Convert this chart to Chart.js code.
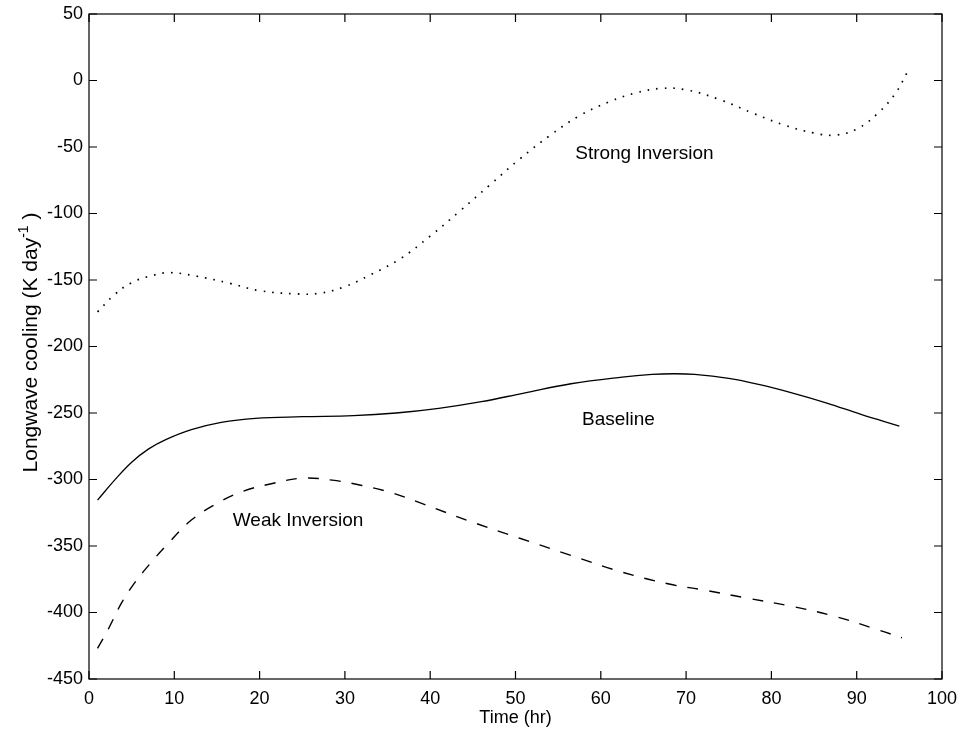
<!DOCTYPE html>
<html>
<head>
<meta charset="utf-8">
<script src="https://cdn.jsdelivr.net/npm/chart.js@4.4.0/dist/chart.umd.min.js"></script>
<style>
  html, body { margin: 0; padding: 0; background: #fff; }
</style>
</head>
<body>
<canvas id="chart" width="963" height="736"></canvas>
<script>
// hours and cooling rates (K/day) for each run
const strongHours = [1, 3, 5, 7.5, 9.5, 12.5, 16.5, 20, 24.5, 27, 30, 33, 36.5, 40, 43.5, 47, 50.5, 54, 57.5, 61, 64, 67, 70, 74, 78, 81.5, 85, 87.5, 90, 92.5, 94.5, 96];
const strongCooling = [-174, -161, -152, -146.5, -144.5, -147, -152.5, -158, -160.5, -160, -155, -146, -134, -117, -98, -78.5, -59, -41.5, -26.5, -16, -9.5, -6, -7, -14.5, -25, -33.5, -39.5, -41, -36.5, -24.5, -10, 7];

const baseHours = [1, 3, 5, 7, 9, 12, 15.5, 19.5, 25, 31, 36, 41, 46, 51, 56.5, 62.5, 66, 68.5, 71, 75, 78.5, 82.5, 86.5, 90.5, 95];
const baseCooling = [-315.5, -300.5, -287, -277, -270, -262.5, -257, -254, -252.8, -252, -250, -246.5, -241.5, -235, -228, -223, -221, -220.5, -221, -224, -228.5, -235, -242.5, -251, -259.8];

const weakHours = [1, 2.3, 3.8, 5.2, 7.2, 9.3, 12, 15, 18, 21.5, 25, 28.5, 32, 35.5, 39, 44.7, 50.5, 56.4, 62.3, 68, 72, 77, 82.5, 87.5, 92.5, 95.3];
const weakCooling = [-427, -412, -393, -379, -363, -348, -330.5, -318, -309, -303, -299, -300.5, -304.5, -310, -318, -331.5, -344.2, -356.8, -369.3, -378.6, -383, -389, -395.5, -403, -413, -419];

const xTicks = [0, 10, 20, 30, 40, 50, 60, 70, 80, 90, 100];
const yTicks = [50, 0, -50, -100, -150, -200, -250, -300, -350, -400, -450];

// curve labels, placed in data units (left edge, baseline)
const curveLabels = [
  { text: 'Strong Inversion', x: 57, y: -59 },
  { text: 'Baseline', x: 57.8, y: -259 },
  { text: 'Weak Inversion', x: 16.85, y: -335 }
];

const FONT = "'Liberation Sans', Arial, Helvetica, sans-serif";
const TICK = 8;

function pts(xs, ys) {
  return xs.map((x, i) => ({ x: x, y: ys[i] }));
}

// box around the plot with inward ticks on every side
const frameTicks = {
  id: 'frameTicks',
  afterDatasetsDraw(chart) {
    const { ctx, chartArea: a, scales } = chart;
    ctx.save();
    ctx.strokeStyle = '#000';
    ctx.lineWidth = 1.2;
    ctx.strokeRect(a.left, a.top, a.right - a.left, a.bottom - a.top);
    ctx.beginPath();
    scales.x.ticks.forEach(t => {
      const px = scales.x.getPixelForValue(t.value);
      ctx.moveTo(px, a.bottom); ctx.lineTo(px, a.bottom - TICK);
      ctx.moveTo(px, a.top); ctx.lineTo(px, a.top + TICK);
    });
    scales.y.ticks.forEach(t => {
      const py = scales.y.getPixelForValue(t.value);
      ctx.moveTo(a.left, py); ctx.lineTo(a.left + TICK, py);
      ctx.moveTo(a.right, py); ctx.lineTo(a.right - TICK, py);
    });
    ctx.stroke();
    ctx.restore();
  }
};

// axis titles and the in-plot curve names
const textLayer = {
  id: 'textLayer',
  afterDraw(chart) {
    const { ctx, chartArea: a, scales } = chart;
    ctx.save();
    ctx.fillStyle = '#000';

    ctx.font = '19px ' + FONT;
    ctx.textAlign = 'left';
    ctx.textBaseline = 'alphabetic';
    curveLabels.forEach(l => {
      ctx.fillText(l.text, scales.x.getPixelForValue(l.x), scales.y.getPixelForValue(l.y));
    });

    ctx.font = '18px ' + FONT;
    ctx.textAlign = 'center';
    ctx.textBaseline = 'middle';
    ctx.fillText('Time (hr)', (a.left + a.right) / 2, 718);

    // y title with superscript exponent
    const main = 'Longwave cooling (K day';
    const sup = '-1';
    const tail = ' )';
    const big = '21px ' + FONT;
    const small = '14px ' + FONT;
    ctx.font = big;
    const wMain = ctx.measureText(main).width;
    const wTail = ctx.measureText(tail).width;
    ctx.font = small;
    const wSup = ctx.measureText(sup).width;
    const total = wMain + wSup + wTail;
    ctx.translate(37, (a.top + a.bottom) / 2 - 4);
    ctx.rotate(-Math.PI / 2);
    ctx.textAlign = 'left';
    ctx.textBaseline = 'alphabetic';
    let cx = -total / 2;
    ctx.font = big;
    ctx.fillText(main, cx, 0);
    cx += wMain;
    ctx.font = small;
    ctx.fillText(sup, cx, -9);
    cx += wSup;
    ctx.font = big;
    ctx.fillText(tail, cx, 0);
    ctx.restore();
  }
};

const lineStyle = { borderColor: '#000', pointRadius: 0, fill: false, tension: 0.4 };

new Chart(document.getElementById('chart'), {
  type: 'line',
  data: {
    datasets: [
      Object.assign({ label: 'Strong Inversion', data: pts(strongHours, strongCooling), borderWidth: 1.7, borderDash: [1.6, 7] }, lineStyle),
      Object.assign({ label: 'Baseline', data: pts(baseHours, baseCooling), borderWidth: 1.3 }, lineStyle),
      Object.assign({ label: 'Weak Inversion', data: pts(weakHours, weakCooling), borderWidth: 1.4, borderDash: [11, 11] }, lineStyle)
    ]
  },
  options: {
    responsive: false,
    animation: false,
    layout: { padding: { top: 14, right: 21, left: 0, bottom: 0 } },
    plugins: { legend: { display: false }, tooltip: { enabled: false } },
    scales: {
      x: {
        type: 'linear',
        min: 0, max: 100,
        afterBuildTicks: s => { s.ticks = xTicks.map(v => ({ value: v })); },
        afterFit: s => { s.height = 57; s.paddingLeft = 0; s.paddingRight = 0; },
        grid: { display: false, drawTicks: false },
        border: { display: false },
        ticks: { color: '#000', padding: 9, maxRotation: 0, font: { family: FONT, size: 18 } }
      },
      y: {
        type: 'linear',
        min: -450, max: 50,
        afterBuildTicks: s => { s.ticks = yTicks.map(v => ({ value: v })); },
        afterFit: s => { s.width = 89; s.paddingTop = 0; s.paddingBottom = 0; },
        grid: { display: false, drawTicks: false },
        border: { display: false },
        ticks: { color: '#000', padding: 6, font: { family: FONT, size: 18 } }
      }
    }
  },
  plugins: [frameTicks, textLayer]
});
</script>
</body>
</html>
